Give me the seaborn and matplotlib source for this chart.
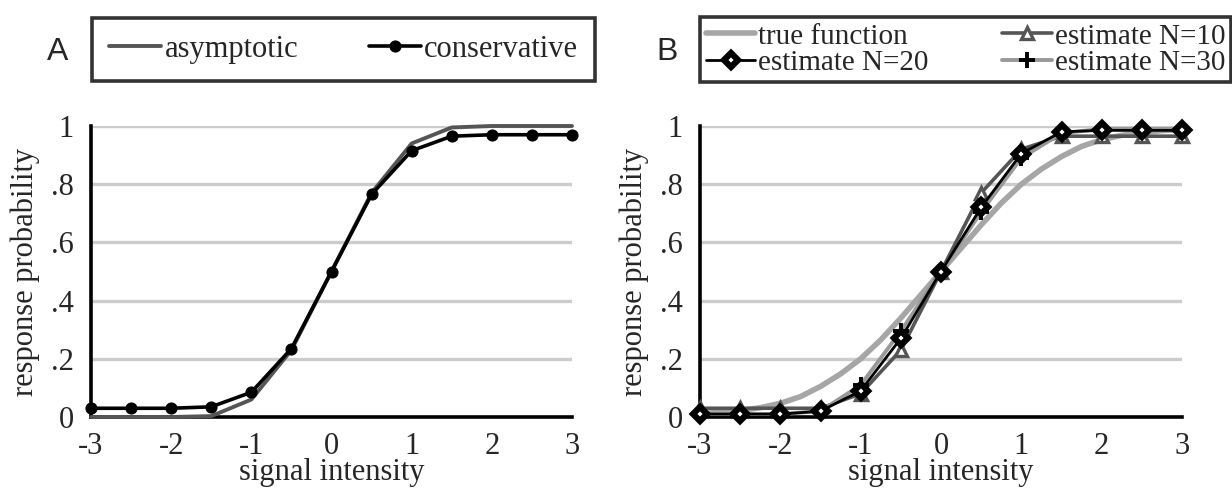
import numpy as np
import pandas as pd
import matplotlib
matplotlib.use("Agg")
import matplotlib.pyplot as plt
import seaborn as sns

# ---------------- data ----------------
x_levels = [-3, -2.5, -2, -1.5, -1, -0.5, 0, 0.5, 1, 1.5, 2, 2.5, 3]

asymptotic = [0.0, 0.0, 0.0, 0.003, 0.06, 0.23, 0.5, 0.77, 0.94, 0.995, 1.0, 1.0, 1.0]
conservative = [0.03, 0.03, 0.03, 0.035, 0.085, 0.235, 0.5, 0.765, 0.915, 0.965, 0.97, 0.97, 0.97]

x_fine = [-3, -2.75, -2.5, -2.25, -2, -1.75, -1.5, -1.25, -1, -0.75, -0.5, -0.25, 0,
          0.25, 0.5, 0.75, 1, 1.25, 1.5, 1.75, 2, 2.25, 2.5, 2.75, 3]
true_function = [0.012, 0.016, 0.022, 0.032, 0.047, 0.07, 0.105, 0.148, 0.2, 0.265, 0.34, 0.42, 0.5,
                 0.58, 0.66, 0.735, 0.8, 0.852, 0.895, 0.93, 0.953, 0.968, 0.978, 0.984, 0.988]

est_n10 = [0.03, 0.03, 0.03, 0.03, 0.08, 0.23, 0.5, 0.77, 0.92, 0.965, 0.965, 0.965, 0.965]
est_n20 = [0.01, 0.01, 0.01, 0.02, 0.09, 0.27, 0.5, 0.72, 0.905, 0.98, 0.985, 0.985, 0.985]
est_n30 = [0.01, 0.01, 0.01, 0.02, 0.11, 0.295, 0.5, 0.705, 0.89, 0.975, 0.99, 0.99, 0.99]

y_ticks = [0, 0.2, 0.4, 0.6, 0.8, 1.0]
y_ticklabels = ["0", ".2", ".4", ".6", ".8", "1"]
x_ticks = [-3, -2.5, -2, -1.5, -1, -0.5, 0, 0.5, 1, 1.5, 2, 2.5, 3]
x_ticklabels = ["-3", "", "-2", "", "-1", "", "0", "", "1", "", "2", "", "3"]

# ---------------- style ----------------
sns.set_style("white")
plt.rcParams["font.family"] = ["Liberation Serif", "DejaVu Serif"]
FS = 22

W, H = 1232, 496
fig = plt.figure(figsize=(W / 100, H / 100), dpi=100)

def px_axes(x0, x1, y0, y1):
    return fig.add_axes([x0 / W, 1 - y1 / H, (x1 - x0) / W, (y1 - y0) / H])

axA = px_axes(91, 572, 126, 417)
axB = px_axes(700, 1182, 126, 417)

def style_axes(ax):
    ax.set_xlim(-3, 3)
    ax.set_ylim(0, 1)
    for yv in y_ticks[1:]:
        ax.axhline(yv, color="#cccccc", lw=2.4, zorder=0)
    for s in ["top", "right"]:
        ax.spines[s].set_visible(False)
    for s in ["left", "bottom"]:
        ax.spines[s].set_linewidth(2.6)
        ax.spines[s].set_color("black")
        ax.spines[s].set_zorder(1)
    ax.set_xticks(x_ticks)
    ax.set_xticklabels(x_ticklabels)
    ax.set_yticks(y_ticks)
    ax.set_yticklabels(y_ticklabels)
    ax.tick_params(axis="both", direction="out", length=7.5, width=2.6, color="black",
                   labelsize=FS, pad=3)
    ax.tick_params(axis="y", pad=5)
    ax.set_xlabel("signal intensity", fontsize=FS, labelpad=-2)
    ax.set_ylabel("response probability", fontsize=FS, labelpad=8)
    ax.grid(False)

# ---------------- panel A ----------------
dfA = pd.DataFrame({"x": x_levels, "asym": asymptotic, "cons": conservative})
sns.lineplot(data=dfA, x="x", y="asym", ax=axA, color="#555555", lw=2.8,
             label="asymptotic", clip_on=False, zorder=3)
sns.lineplot(data=dfA, x="x", y="cons", ax=axA, color="black", lw=2.6, marker="o",
             markersize=8, markeredgecolor="black", label="conservative",
             clip_on=False, zorder=4)
style_axes(axA)
hA, lA = axA.get_legend_handles_labels()
axA.get_legend().remove()

# ---------------- panel B ----------------
dfT = pd.DataFrame({"x": x_fine, "y": true_function})
dfB = pd.DataFrame({"x": x_levels, "n10": est_n10, "n20": est_n20, "n30": est_n30})
sns.lineplot(data=dfT, x="x", y="y", ax=axB, color="#a6a6a6", lw=4.0,
             label="true function", clip_on=False, zorder=2)
sns.lineplot(data=dfB, x="x", y="n10", ax=axB, color="#555555", lw=2.6, marker="^",
             markersize=9, markerfacecolor="white", markeredgecolor="#555555",
             markeredgewidth=2.4, label="estimate N=10", clip_on=False, zorder=3)
sns.lineplot(data=dfB, x="x", y="n30", ax=axB, color="#999999", lw=2.8, marker="+",
             markersize=11, markeredgecolor="black", markeredgewidth=2.8,
             label="estimate N=30", clip_on=False, zorder=4)
sns.lineplot(data=dfB, x="x", y="n20", ax=axB, color="black", lw=2.0, marker="D",
             markersize=7.5, markerfacecolor="white", markeredgecolor="black",
             markeredgewidth=4.5, label="estimate N=20", clip_on=False, zorder=5)
style_axes(axB)
hB, lB = axB.get_legend_handles_labels()
axB.get_legend().remove()
order = ["true function", "estimate N=20", "estimate N=10", "estimate N=30"]
hmap = dict(zip(lB, hB))

# ---------------- legends ----------------
def fig_box(x0, x1, y0, y1):
    return (x0 / W, 1 - y1 / H, (x1 - x0) / W, (y1 - y0) / H)

legA = fig.legend(hA, lA, loc="center", bbox_to_anchor=fig_box(92, 595, 12, 87), mode="expand",
                  ncol=2, fontsize=FS, frameon=True, fancybox=False, borderpad=0.55,
                  handlelength=1.7, handletextpad=0.12, columnspacing=3.5, borderaxespad=0)
legA.get_frame().set_edgecolor("black")
legA.get_frame().set_linewidth(2.6)

legB = fig.legend([hmap[k] for k in order], order, loc="center",
                  bbox_to_anchor=fig_box(700, 1231, 12, 87), mode="expand",
                  ncol=2, fontsize=21, frameon=True, fancybox=False, borderpad=0.2,
                  handlelength=1.7, handletextpad=0.1, columnspacing=0.8,
                  labelspacing=0.0, borderaxespad=0)
legB.get_frame().set_edgecolor("black")
legB.get_frame().set_linewidth(2.6)

fig.text(58 / W, 1 - 52 / H, "A", fontsize=23, family=["Liberation Sans", "DejaVu Sans"],
         ha="center", va="center")
fig.text(667 / W, 1 - 52 / H, "B", fontsize=23, family=["Liberation Sans", "DejaVu Sans"],
         ha="center", va="center")

fig.savefig("out.png", dpi=100)
